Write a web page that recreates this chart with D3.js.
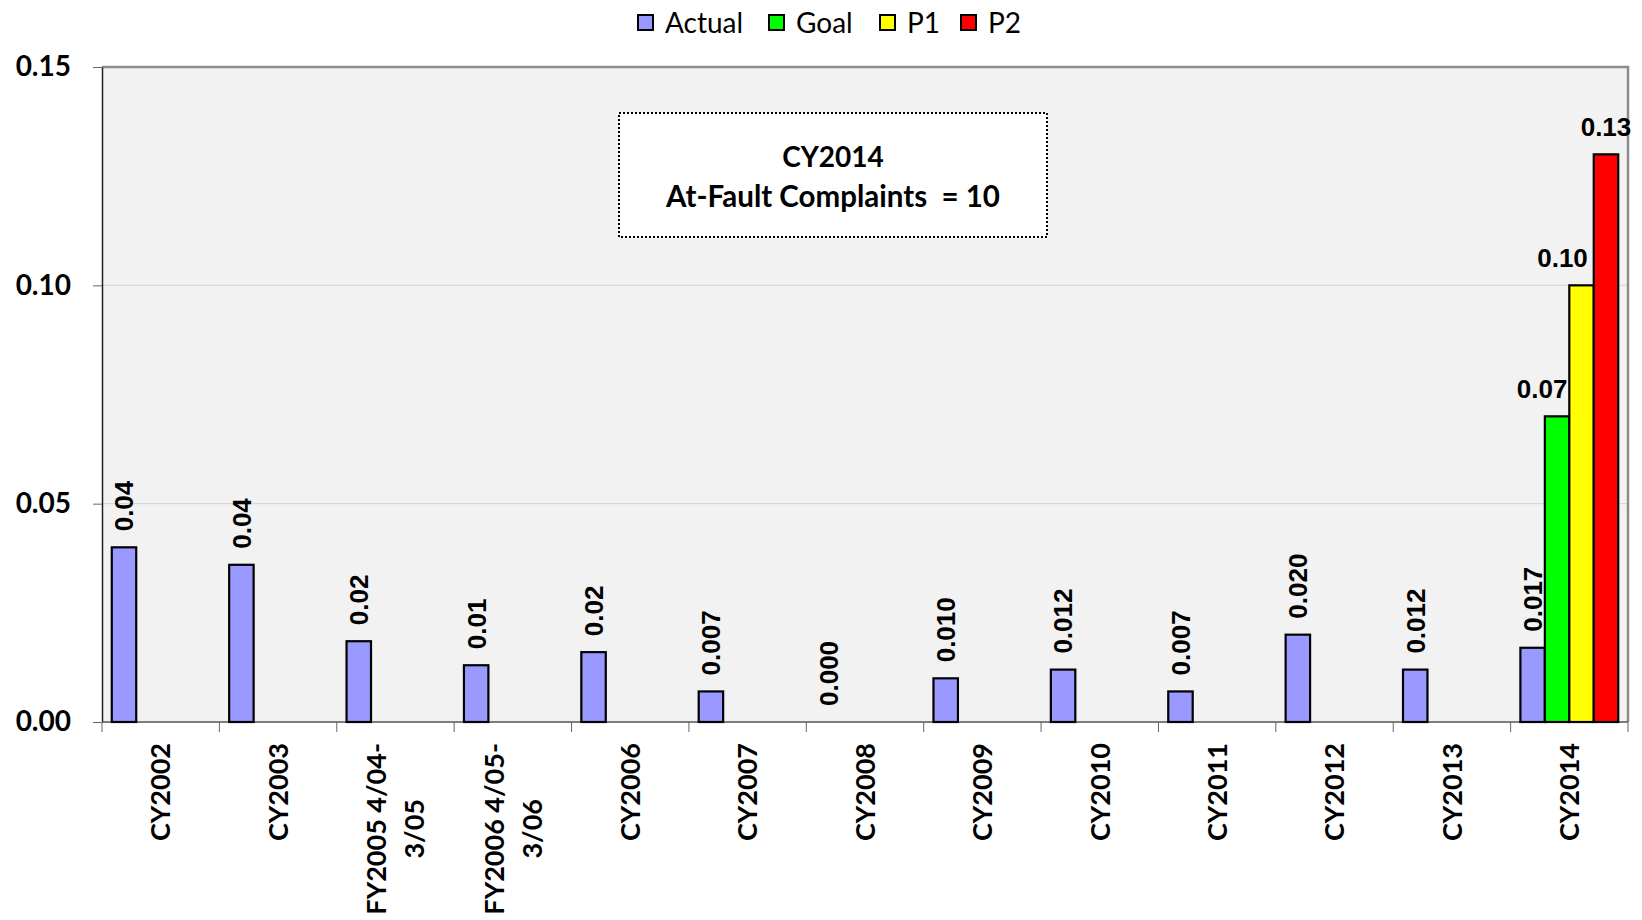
<!DOCTYPE html>
<html>
<head>
<meta charset="utf-8">
<script src="https://d3js.org/d3.v7.min.js"></script>
<style>
  body { margin: 0; background: #fff; }
</style>
</head>
<body>
<div id="chart"></div>
<script>

// data
var categories = ["CY2002", "CY2003", "FY2005 4/04-|3/05", "FY2006 4/05-|3/06", "CY2006", "CY2007",
                  "CY2008", "CY2009", "CY2010", "CY2011", "CY2012", "CY2013", "CY2014"];
var actual = [0.040, 0.036, 0.0185, 0.013, 0.016, 0.007, 0.000, 0.010, 0.012, 0.007, 0.020, 0.012, 0.017];
var actualLabels = ["0.04", "0.04", "0.02", "0.01", "0.02", "0.007", "0.000", "0.010", "0.012", "0.007", "0.020", "0.012", "0.017"];
var goal = [null, null, null, null, null, null, null, null, null, null, null, null, 0.07];
var p1   = [null, null, null, null, null, null, null, null, null, null, null, null, 0.10];
var p2   = [null, null, null, null, null, null, null, null, null, null, null, null, 0.13];
var seriesNames = ["Actual", "Goal", "P1", "P2"];
var seriesColors = ["#9999ff", "#00ff00", "#ffff00", "#ff0000"];
var yTicks = [0, 0.05, 0.10, 0.15];
var boxLines = ["CY2014", "At-Fault Complaints  = 10"];

var W = 1642, H = 920;
var margin = {top: 67, right: 14, bottom: 198, left: 102};
var width = W - margin.left - margin.right,
    height = H - margin.top - margin.bottom;

var svg = d3.select("#chart").append("svg")
    .attr("width", W)
    .attr("height", H);

var g = svg.append("g")
    .attr("transform", "translate(" + margin.left + "," + margin.top + ")");

var x = d3.scaleBand().domain(categories).range([0, width]).padding(0);
var xs = d3.scaleBand().domain(seriesNames).range([0, x.bandwidth()]).paddingInner(0).paddingOuter(0.4);
var y = d3.scaleLinear().domain([0, 0.15]).range([height, 0]);

// plot background
g.append("rect")
    .attr("width", width).attr("height", height)
    .attr("fill", "#f2f2f2");

// gridlines
g.selectAll(".grid").data(yTicks.filter(function(d){ return d > 0 && d < 0.15; }))
  .enter().append("line")
    .attr("x1", 0).attr("x2", width)
    .attr("y1", function(d){ return y(d); }).attr("y2", function(d){ return y(d); })
    .attr("stroke", "#d4d4d4").attr("stroke-width", 1);

// top/right border
g.append("path")
    .attr("d", "M0," + y(0.15) + "H" + width + "V" + height)
    .attr("fill", "none").attr("stroke", "#8c8c8c").attr("stroke-width", 2.5);

// y axis
var yAxis = g.append("g")
    .call(d3.axisLeft(y).tickValues(yTicks).tickFormat(d3.format(".2f")).tickSize(9).tickPadding(22).tickSizeOuter(0));
yAxis.select(".domain").attr("stroke", "#222").attr("stroke-width", 1.5);
yAxis.selectAll(".tick line").attr("stroke", "#666");
yAxis.selectAll("text")
    .style("font-family", "Lato, sans-serif")
    .style("font-weight", "bold")
    .style("font-size", "28px")
    .attr("fill", "#000");

// x axis line and ticks at category boundaries
g.append("line")
    .attr("x1", 0).attr("x2", width)
    .attr("y1", height).attr("y2", height)
    .attr("stroke", "#555").attr("stroke-width", 1.5);
var bounds = categories.map(function(c){ return x(c); }).concat([width]);
g.selectAll(".xtick").data(bounds).enter().append("line")
    .attr("x1", function(d){ return d; }).attr("x2", function(d){ return d; })
    .attr("y1", height).attr("y2", height + 10)
    .attr("stroke", "#666").attr("stroke-width", 1);

// bars
var seriesData = [actual, goal, p1, p2];
var bars = [];
seriesData.forEach(function(vals, si) {
  vals.forEach(function(v, i) {
    if (v !== null) bars.push({cat: categories[i], s: seriesNames[si], v: v, si: si, i: i});
  });
});

g.selectAll(".bar").data(bars.filter(function(d){ return d.v > 0; }))
  .enter().append("rect")
    .attr("x", function(d){ return x(d.cat) + xs(d.s); })
    .attr("y", function(d){ return y(d.v); })
    .attr("width", xs.bandwidth())
    .attr("height", function(d){ return height - y(d.v); })
    .attr("fill", function(d){ return seriesColors[d.si]; })
    .attr("stroke", "#000").attr("stroke-width", 2.2);

// data labels: Actual rotated, others horizontal
var labelFont = "'Liberation Sans', Arial, sans-serif";
g.selectAll(".vlab").data(bars.filter(function(d){ return d.si === 0; }))
  .enter().append("text")
    .attr("transform", function(d){
      return "translate(" + (x(d.cat) + xs(d.s) + xs.bandwidth() / 2) + "," + (y(d.v) - 16) + ") rotate(-90)";
    })
    .attr("dy", "0.36em")
    .attr("text-anchor", "start")
    .style("font-family", labelFont).style("font-weight", "bold").style("font-size", "26px")
    .text(function(d){ return actualLabels[d.i]; });

// the goal/P1 labels sit nudged left so they don't collide
var labelNudge = {Goal: -15, P1: -19, P2: 0};
g.selectAll(".hlab").data(bars.filter(function(d){ return d.si > 0; }))
  .enter().append("text")
    .attr("x", function(d){ return x(d.cat) + xs(d.s) + xs.bandwidth() / 2 + labelNudge[d.s]; })
    .attr("y", function(d){ return y(d.v) - 18; })
    .attr("text-anchor", "middle")
    .style("font-family", labelFont).style("font-weight", "bold").style("font-size", "26px")
    .text(function(d){ return d3.format(".2f")(d.v); });

// category labels (rotated, multi-line centred)
var catTop = height + 21;
var lineGap = 38;
categories.forEach(function(c) {
  var lines = c.split("|");
  var cx = x(c) + x.bandwidth() / 2;
  var grp = g.append("g");
  var texts = lines.map(function(l, k) {
    return grp.append("text")
      .attr("text-anchor", "middle")
      .attr("dy", "0.36em")
      .style("font-family", "Lato, sans-serif").style("font-weight", "bold").style("font-size", "27px")
      .text(l);
  });
  var maxLen = d3.max(texts, function(t){ return t.node().getComputedTextLength(); });
  texts.forEach(function(t, k) {
    var off = (k - (lines.length - 1) / 2) * lineGap;
    t.attr("transform", "translate(" + (cx + off) + "," + (catTop + maxLen / 2) + ") rotate(-90)");
  });
});

// annotation box
var box = g.append("g").attr("transform", "translate(" + (619 - margin.left) + "," + (113 - margin.top) + ")");
box.append("rect")
    .attr("width", 428).attr("height", 124)
    .attr("fill", "#fff")
    .attr("stroke", "#000").attr("stroke-width", 2).attr("stroke-dasharray", "2,2");
var boxSizes = [28, 29.5];
box.selectAll("text").data(boxLines).enter().append("text")
    .attr("x", 214)
    .attr("y", function(d, i){ return 44 + i * 39; })
    .attr("dy", "0.36em")
    .attr("text-anchor", "middle")
    .style("font-family", "Lato, sans-serif").style("font-weight", "bold")
    .style("font-size", function(d, i){ return boxSizes[i] + "px"; })
    .style("white-space", "pre")
    .text(function(d){ return d; });

// legend
var legendX = [638, 769, 880, 961];
var legend = svg.append("g");
seriesNames.forEach(function(s, i) {
  legend.append("rect")
    .attr("x", legendX[i]).attr("y", 15).attr("width", 15).attr("height", 15)
    .attr("fill", seriesColors[i]).attr("stroke", "#000").attr("stroke-width", 2);
  legend.append("text")
    .attr("x", legendX[i] + 27).attr("y", 23).attr("dy", "0.36em")
    .style("font-family", "Lato, sans-serif").style("font-size", "28px")
    .text(s);
});

</script>
</body>
</html>
